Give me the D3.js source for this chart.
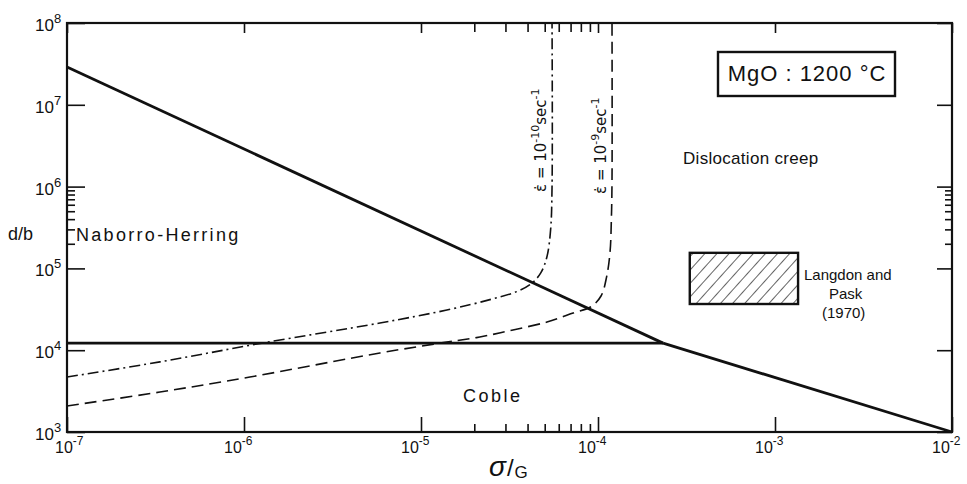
<!DOCTYPE html>
<html>
<head>
<meta charset="utf-8">
<script src="https://cdn.jsdelivr.net/npm/d3@7"></script>
<style>
  body { margin: 0; background: #fff; }
  svg { display: block; }
  text { font-family: 'Liberation Sans', 'DejaVu Sans', sans-serif; fill: #111; }
</style>
</head>
<body>
<div id="chart"></div>
<script>
// axis ticks
var xDecades = [1e-7, 1e-6, 1e-5, 1e-4, 1e-3, 1e-2]
var xExponents = [-7, -6, -5, -4, -3, -2]
var xMinor = [2e-5, 3e-5, 4e-5, 5e-5, 6e-5, 7e-5, 8e-5, 9e-5]
var yDecades = [1e3, 1e4, 1e5, 1e6, 1e7, 1e8]
var yExponents = [3, 4, 5, 6, 7, 8]
var yMinor = [2e5, 3e5, 4e5, 5e5, 6e5, 7e5, 8e5, 9e5]

// field boundaries [sigma/G, d/b]
var nhDislocation = [[1e-7, 2.9e7], [2.33e-4, 1.22e4]]
var cobleDislocation = [[2.33e-4, 1.22e4], [1e-2, 1e3]]
var nhCoble = [[1e-7, 1.22e4], [2.33e-4, 1.22e4]]

// constant strain rate contours
var rate10 = [
  [1e-7, 4.7e3], [3.35e-7, 7.2e3], [1.26e-6, 1.22e4], [5.86e-6, 2.15e4],
  [1.4e-5, 3.1e4], [2.45e-5, 4.15e4], [3.55e-5, 5.3e4], [4.23e-5, 6.6e4],
  [4.75e-5, 8.8e4], [5.15e-5, 1.4e5], [5.4e-5, 3e5], [5.5e-5, 1e6], [5.5e-5, 1e8]
]
var rate9 = [
  [1e-7, 2.08e3], [3.35e-7, 3.08e3], [1.08e-6, 4.7e3], [5.86e-6, 9.25e3],
  [1.28e-5, 1.22e4], [2.15e-5, 1.45e4], [3.31e-5, 1.77e4], [5.15e-5, 2.21e4],
  [7.23e-5, 2.85e4], [9.12e-5, 3.4e4], [1.04e-4, 4.6e4], [1.12e-4, 8e4],
  [1.17e-4, 1.6e5], [1.19e-4, 4e5], [1.2e-4, 1.2e6], [1.2e-4, 1e8]
]

// Langdon and Pask (1970) data box
var langdonBox = { x0: 3.3e-4, x1: 1.35e-3, y0: 3.67e4, y1: 1.55e5 }

var width = 967, height = 484
var svg = d3.select('#chart').append('svg')
  .attr('width', width).attr('height', height)

var x = d3.scaleLog().domain([1e-7, 1e-2]).range([67, 952])
var y = d3.scaleLog().domain([1e3, 1e8]).range([432, 23])

// frame
svg.append('rect')
  .attr('x', x.range()[0]).attr('y', y.range()[1])
  .attr('width', x.range()[1] - x.range()[0])
  .attr('height', y.range()[0] - y.range()[1])
  .attr('fill', 'none').attr('stroke', '#111').attr('stroke-width', 2.2)

function tickAxis (axis, tr, major, minor, majorLen, minorLen) {
  var g = svg.append('g').attr('transform', tr)
  g.call(axis.tickValues(major).tickSizeInner(-majorLen).tickSizeOuter(0).tickFormat(''))
  g.append('g').call(axis.tickValues(minor).tickSizeInner(-minorLen).tickSizeOuter(0).tickFormat(''))
  g.selectAll('.domain').remove()
  g.selectAll('line').attr('stroke', '#111').attr('stroke-width', 1.6)
}
tickAxis(d3.axisBottom(x), 'translate(0,432)', xDecades, xMinor, 15, 8)
tickAxis(d3.axisTop(x), 'translate(0,23)', xDecades, xMinor, 10, 9)
tickAxis(d3.axisLeft(y), 'translate(67,0)', yDecades, yMinor, 18, 8)
tickAxis(d3.axisRight(y), 'translate(952,0)', yDecades, yMinor, 15, 7)

// tick labels
xDecades.forEach(function (v, i) {
  var t = svg.append('text').attr('x', x(v) - (i === 0 ? 12 : 20)).attr('y', 453)
    .style('font-size', '16px')
  t.append('tspan').text('10')
  t.append('tspan').attr('dy', -8).style('font-size', '12px').text(xExponents[i])
})
yDecades.forEach(function (v, i) {
  var t = svg.append('text').attr('x', 35).attr('y', y(v) + 8)
    .style('font-size', '17px')
  t.append('tspan').text('10')
  t.append('tspan').attr('dy', -8).style('font-size', '13px').text(yExponents[i])
})

// axis titles
var xt = svg.append('text').attr('x', 489).attr('y', 476)
xt.append('tspan').style('font-size', '28px').style('font-style', 'italic').text('\u03C3')
xt.append('tspan').style('font-size', '24px').attr('dx', 1).text('/')
xt.append('tspan').style('font-size', '17px').attr('dx', 1).attr('dy', 2).text('G')
svg.append('text').attr('x', 8).attr('y', 240).style('font-size', '18px').text('d/b')

// boundaries
var line = d3.line().x(function (d) { return x(d[0]) }).y(function (d) { return y(d[1]) })
;[nhDislocation, cobleDislocation, nhCoble].forEach(function (d) {
  svg.append('path').attr('d', line(d)).attr('fill', 'none')
    .attr('stroke', '#111').attr('stroke-width', 2.8)
})

var curve = d3.line().curve(d3.curveCatmullRom.alpha(0.5))
  .x(function (d) { return x(d[0]) }).y(function (d) { return y(d[1]) })
svg.append('path').attr('d', curve(rate10)).attr('fill', 'none')
  .attr('stroke', '#111').attr('stroke-width', 1.6)
  .attr('stroke-dasharray', '11,4,2,4')
svg.append('path').attr('d', curve(rate9)).attr('fill', 'none')
  .attr('stroke', '#111').attr('stroke-width', 1.6)
  .attr('stroke-dasharray', '12,6')

// contour labels
function rateLabel (px, py, exp) {
  var t = svg.append('text')
    .attr('transform', 'translate(' + px + ',' + py + ') rotate(-90)')
    .style('font-family', "'DejaVu Sans', sans-serif")
    .style('font-size', '15px')
  t.append('tspan').text('\u03B5\u0307 = 10')
  t.append('tspan').attr('dy', -7).style('font-size', '11px').text(exp)
  t.append('tspan').attr('dy', 7).text('sec')
  t.append('tspan').attr('dy', -7).style('font-size', '11px').text('-1')
}
rateLabel(546, 192, '-10')
rateLabel(606, 194, '-9')

// regime labels
svg.append('text').attr('x', 76).attr('y', 241).style('font-size', '18px')
  .style('letter-spacing', '2.3px').text('Naborro-Herring')
svg.append('text').attr('x', 463).attr('y', 402).style('font-size', '18px')
  .style('letter-spacing', '2.5px').text('Coble')
svg.append('text').attr('x', 683).attr('y', 164).style('font-size', '17px')
  .style('letter-spacing', '0.3px').text('Dislocation creep')

// MgO box
svg.append('rect').attr('x', 718).attr('y', 52).attr('width', 177).attr('height', 44)
  .attr('fill', 'none').attr('stroke', '#111').attr('stroke-width', 2.4)
svg.append('text').attr('x', 807).attr('y', 81).attr('text-anchor', 'middle')
  .style('font-size', '22px').style('letter-spacing', '1px').text('MgO : 1200 \u00B0C')

// hatched data box
var defs = svg.append('defs')
var pat = defs.append('pattern').attr('id', 'hatch').attr('patternUnits', 'userSpaceOnUse')
  .attr('width', 9).attr('height', 9).attr('patternTransform', 'rotate(42)')
pat.append('line').attr('x1', 0).attr('y1', 0).attr('x2', 0).attr('y2', 9)
  .attr('stroke', '#111').attr('stroke-width', 1.3)
svg.append('rect')
  .attr('x', x(langdonBox.x0)).attr('y', y(langdonBox.y1))
  .attr('width', x(langdonBox.x1) - x(langdonBox.x0))
  .attr('height', y(langdonBox.y0) - y(langdonBox.y1))
  .attr('fill', 'url(#hatch)').attr('stroke', '#111').attr('stroke-width', 2.4)
var lp = svg.append('text').style('font-size', '15px')
lp.append('tspan').attr('x', 804).attr('y', 280).text('Langdon and')
lp.append('tspan').attr('x', 829).attr('y', 299).text('Pask')
lp.append('tspan').attr('x', 822).attr('y', 318).text('(1970)')
</script>
</body>
</html>
